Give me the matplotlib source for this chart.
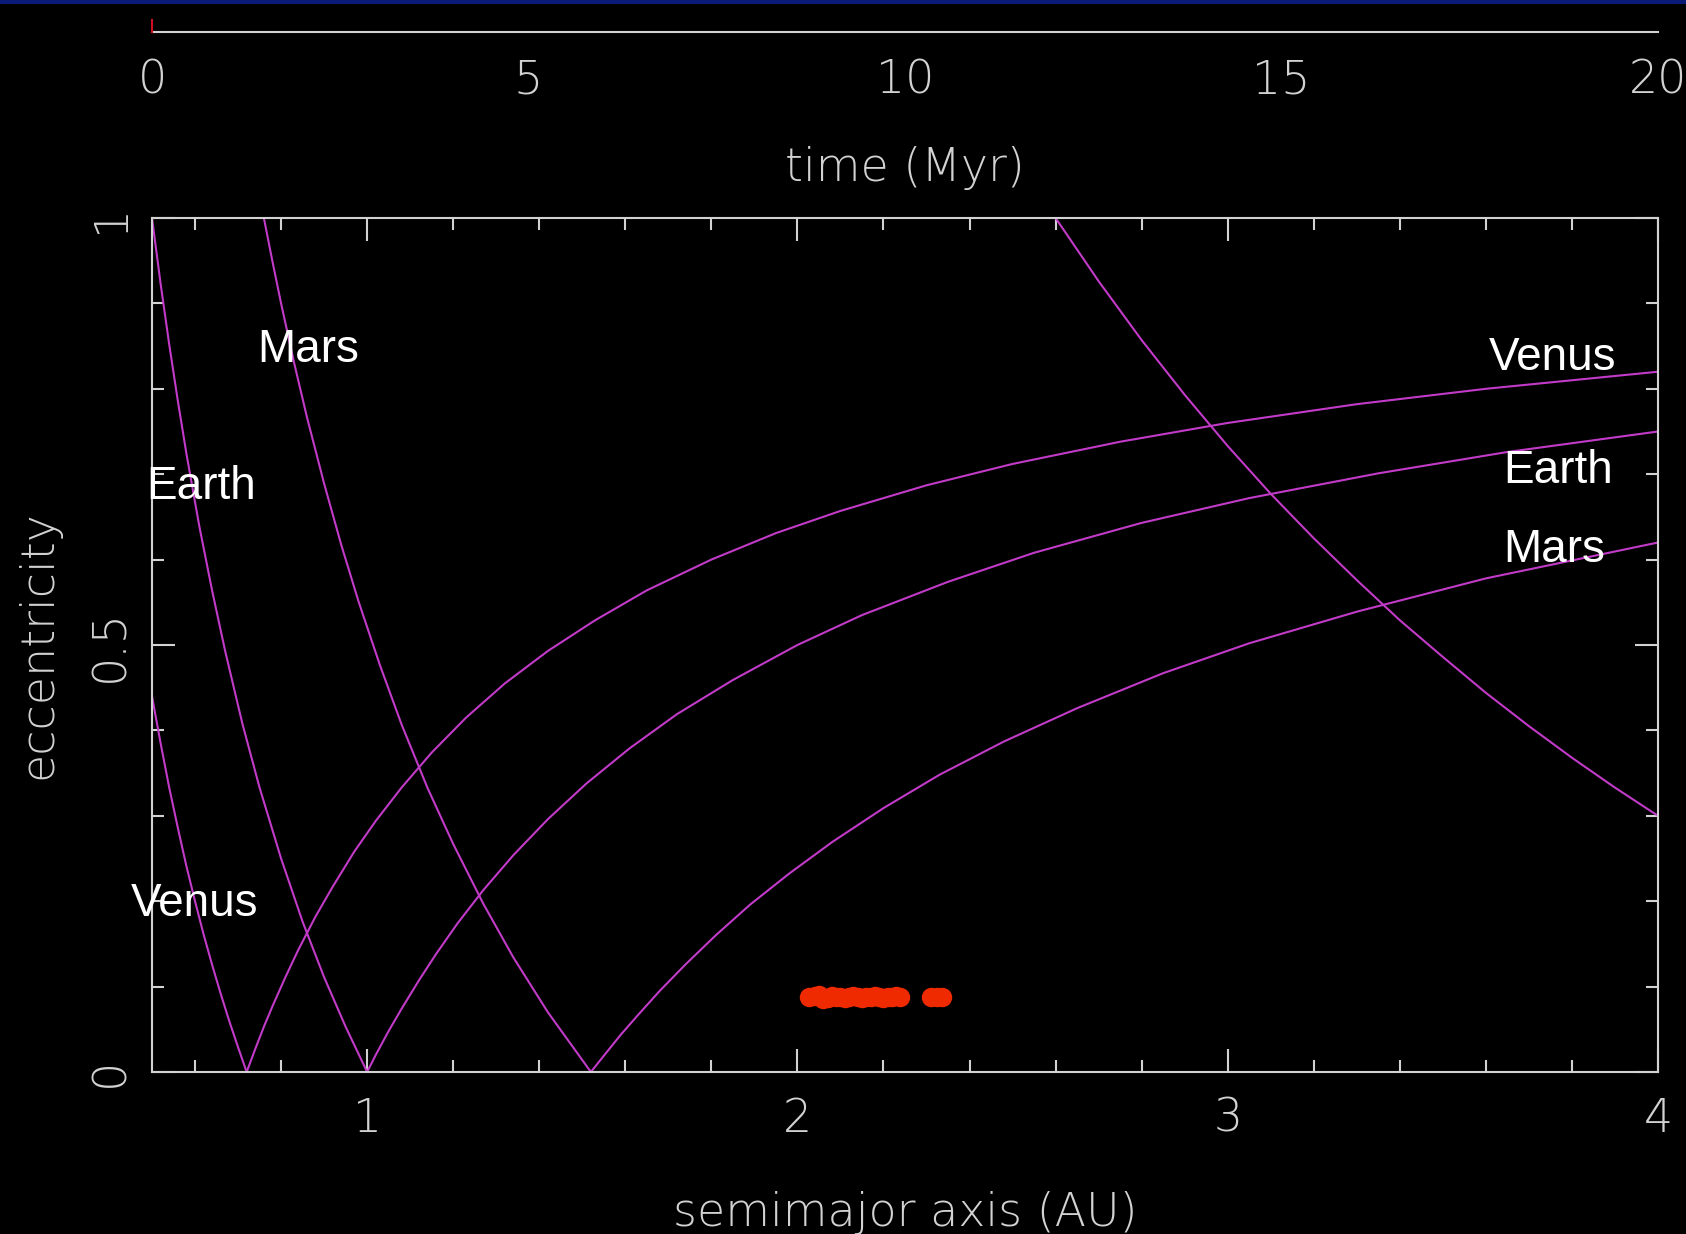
import matplotlib
matplotlib.use("Agg")
import matplotlib.pyplot as plt
from matplotlib.patches import Rectangle

# orbit-crossing lines: perihelion q = a_planet (outer branch), aphelion Q = a_planet (inner branch)
venus_out_a = [0.72, 0.74, 0.76, 0.78, 0.81, 0.84, 0.88, 0.92, 0.97, 1.02, 1.08, 1.15, 1.23, 1.32,
               1.42, 1.53, 1.65, 1.8, 1.95, 2.1, 2.3, 2.5, 2.75, 3.0, 3.3, 3.6, 4.0]
venus_out_e = [0.0, 0.027, 0.053, 0.077, 0.111, 0.143, 0.182, 0.217, 0.258, 0.294, 0.333, 0.374, 0.415, 0.455,
               0.493, 0.529, 0.564, 0.600, 0.631, 0.657, 0.687, 0.712, 0.738, 0.760, 0.782, 0.800, 0.820]

earth_out_a = [1.0, 1.02, 1.05, 1.08, 1.12, 1.16, 1.21, 1.27, 1.34, 1.42, 1.51, 1.61, 1.72, 1.85,
               2.0, 2.15, 2.35, 2.55, 2.8, 3.05, 3.35, 3.65, 4.0]
earth_out_e = [0.0, 0.020, 0.048, 0.074, 0.107, 0.138, 0.174, 0.213, 0.254, 0.296, 0.338, 0.379, 0.419, 0.459,
               0.500, 0.535, 0.574, 0.608, 0.643, 0.672, 0.701, 0.726, 0.750]

mars_out_a = [1.52, 1.55, 1.59, 1.63, 1.68, 1.74, 1.81, 1.89, 1.98, 2.08, 2.2, 2.33, 2.48, 2.65,
              2.85, 3.05, 3.3, 3.6, 4.0]
mars_out_e = [0.0, 0.019, 0.044, 0.067, 0.095, 0.126, 0.160, 0.196, 0.232, 0.269, 0.309, 0.348, 0.387, 0.426,
              0.467, 0.502, 0.539, 0.578, 0.620]

venus_in_a = [0.5, 0.52, 0.54, 0.56, 0.58, 0.6, 0.62, 0.64, 0.66, 0.68, 0.70, 0.72]
venus_in_e = [0.44, 0.385, 0.333, 0.286, 0.241, 0.200, 0.161, 0.125, 0.091, 0.059, 0.029, 0.0]

earth_in_a = [0.5, 0.52, 0.54, 0.56, 0.58, 0.61, 0.64, 0.67, 0.71, 0.75, 0.8, 0.85, 0.9, 0.95, 1.0]
earth_in_e = [1.0, 0.923, 0.852, 0.786, 0.724, 0.639, 0.563, 0.493, 0.408, 0.333, 0.250, 0.176, 0.111, 0.053, 0.0]

mars_in_a = [0.76, 0.78, 0.8, 0.83, 0.86, 0.9, 0.94, 0.98, 1.03, 1.08, 1.14, 1.2, 1.27, 1.34, 1.42, 1.52]
mars_in_e = [1.0, 0.949, 0.900, 0.831, 0.767, 0.689, 0.617, 0.551, 0.476, 0.407, 0.333, 0.267, 0.197, 0.134, 0.070, 0.0]

jupiter_in_a = [2.6, 2.7, 2.8, 2.9, 3.0, 3.1, 3.2, 3.3, 3.4, 3.5, 3.6, 3.7, 3.8, 3.9, 4.0]
jupiter_in_e = [1.0, 0.926, 0.857, 0.793, 0.733, 0.677, 0.625, 0.576, 0.529, 0.486, 0.444, 0.405, 0.368, 0.333, 0.300]

# test particles at the current snapshot
clump_a = [2.028, 2.04, 2.05, 2.06, 2.07, 2.08, 2.09, 2.10, 2.11, 2.12, 2.13, 2.14, 2.15,
           2.16, 2.17, 2.18, 2.19, 2.20, 2.21, 2.22, 2.23, 2.239, 2.311, 2.324, 2.337]
clump_e = [0.088, 0.089, 0.090, 0.086, 0.087, 0.089, 0.088, 0.088, 0.087, 0.088, 0.089, 0.088, 0.087,
           0.088, 0.088, 0.089, 0.088, 0.087, 0.088, 0.088, 0.089, 0.088, 0.088, 0.088, 0.088]

# time bar
time_range = [0, 20]
time_ticks = [0, 5, 10, 15, 20]
time_now = 0.0

# planet labels (text, a, e)
planet_labels = [("Mars", 0.862, 0.845), ("Earth", 0.614, 0.685), ("Venus", 0.60, 0.197),
                 ("Venus", 3.756, 0.836), ("Earth", 3.767, 0.704), ("Mars", 3.758, 0.611)]

#%% figure

W, H = 1686, 1234
fig = plt.figure(figsize=(W / 100, H / 100), dpi=100, facecolor="black")

# slide banner strip at the very top
fig.patches.append(Rectangle((0, 1 - 4 / H), 1, 4 / H, transform=fig.transFigure,
                             facecolor="#0a1a78", edgecolor="none"))

fg = "#d2d2d2"
magenta = "#c23bc8"
axfont = dict(family="DejaVu Sans", fontsize=33, color=fg, fontweight="light")

left, bottom = 152 / W, 1 - 1072 / H
width, height = 1506 / W, 854 / H

ax = fig.add_axes([left, bottom, width, height], facecolor="black")

curves = [(venus_out_a, venus_out_e), (earth_out_a, earth_out_e), (mars_out_a, mars_out_e),
          (venus_in_a, venus_in_e), (earth_in_a, earth_in_e), (mars_in_a, mars_in_e),
          (jupiter_in_a, jupiter_in_e)]
for xs, ys in curves:
    ax.plot(xs, ys, color=magenta, lw=1.5, solid_joinstyle="round")

ax.plot(clump_a, clump_e, "o", color="#f02a00", ms=14, mec="none")

for txt, a, e in planet_labels:
    ax.text(a, e, txt, family="Liberation Sans", fontsize=33, color="white",
            ha="center", va="center")

ax.set_xlim(0.5, 4)
ax.set_ylim(0, 1)
ax.set_xticks([1, 2, 3, 4])
ax.set_xticks([0.6, 0.8, 1.2, 1.4, 1.6, 1.8, 2.2, 2.4, 2.6, 2.8, 3.2, 3.4, 3.6, 3.8], minor=True)
ax.set_yticks([0, 0.5, 1])
ax.set_yticklabels(["0", "0.5", "1"])
ax.set_yticks([0.1, 0.2, 0.3, 0.4, 0.6, 0.7, 0.8, 0.9], minor=True)
ax.tick_params(which="both", direction="in", top=True, right=True, color=fg, width=1.5)
ax.tick_params(which="major", length=16.5)
ax.tick_params(which="minor", length=8.5)
ax.tick_params(axis="x", which="major", pad=18, labelsize=33, labelcolor=fg)
ax.tick_params(axis="y", which="major", pad=14, labelsize=33, labelcolor=fg, labelrotation=90)
for lbl in ax.get_xticklabels() + ax.get_yticklabels():
    lbl.set_family("DejaVu Sans")
    lbl.set_fontweight("light")
for lbl in ax.get_yticklabels():
    lbl.set_va("center")
for s in ax.spines.values():
    s.set_color(fg)
    s.set_linewidth(1.5)

ax.set_xlabel("semimajor axis (AU)", **axfont)
ax.xaxis.set_label_coords(left + width / 2, 1 - 1213 / H, transform=fig.transFigure)
ax.xaxis.label.set_va("center")
ax.set_ylabel("eccentricity", **axfont)
ax.yaxis.set_label_coords(38 / W, bottom + height / 2, transform=fig.transFigure)
ax.yaxis.label.set_va("center")

# time progress bar
axt = fig.add_axes([left, 1 - 32 / H, width, 12 / H], facecolor="none")
axt.set_xlim(time_range)
axt.set_ylim(0, 1)
axt.plot(time_range, [0, 0], color=fg, lw=1.5, clip_on=False)
axt.plot([time_now, time_now], [0, 1], color="#d01020", lw=1.5, clip_on=False)
for s in axt.spines.values():
    s.set_visible(False)
axt.set_yticks([])
axt.set_xticks(time_ticks)
axt.tick_params(axis="x", length=0, pad=19, labelsize=33, labelcolor=fg)
for lbl in axt.get_xticklabels():
    lbl.set_family("DejaVu Sans")
    lbl.set_fontweight("light")
axt.set_xlabel("time (Myr)", **axfont)
axt.xaxis.set_label_coords(left + width / 2, 1 - 168 / H, transform=fig.transFigure)
axt.xaxis.label.set_va("center")

fig.savefig("out.png", dpi=100, facecolor="black")
